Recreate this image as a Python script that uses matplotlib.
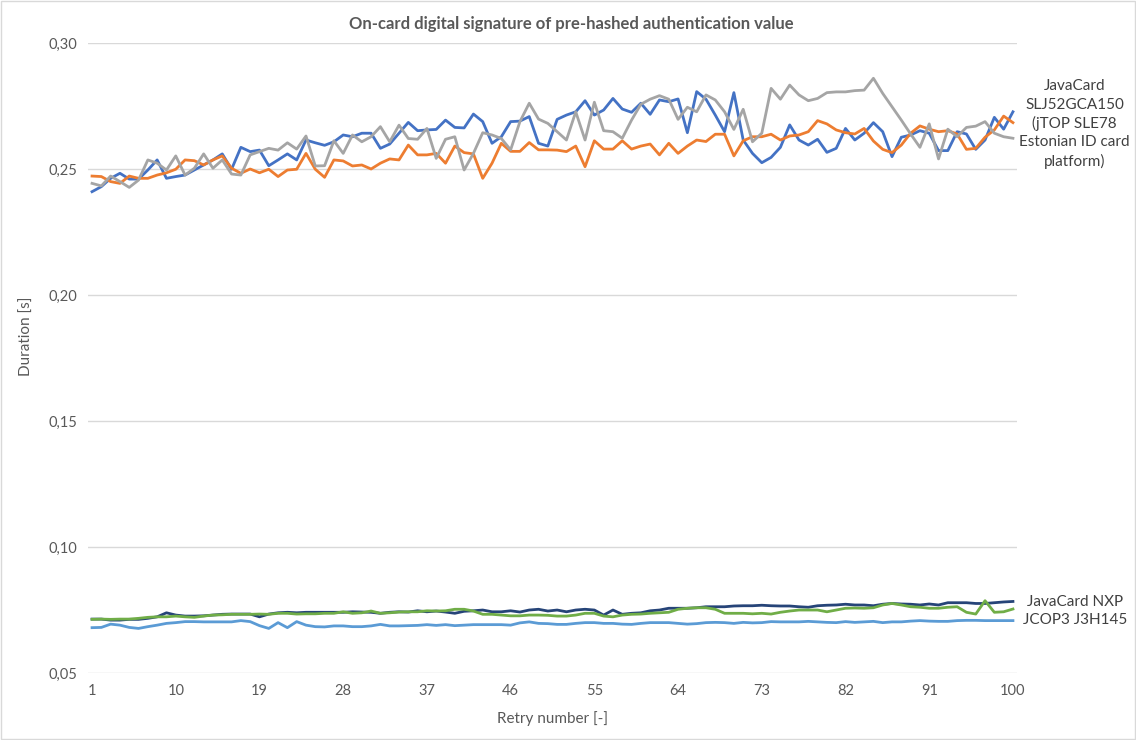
import matplotlib.pyplot as plt
from matplotlib.patches import Rectangle

plt.rcParams['font.family'] = ['Lato', 'DejaVu Sans']

retry = list(range(1, 101))

# JavaCard SLJ52GCA150 (jTOP SLE78) - three runs
sle_blue = [
    .2410, .2430, .2463, .2483, .2460, .2460, .2496, .2536, .2463, .2470,
    .2476, .2496, .2516, .2536, .2560, .2499, .2586, .2569, .2575, .2513,
    .2536, .2560, .2536, .2615, .2604, .2594, .2608, .2635, .2628, .2642,
    .2642, .2582, .2599, .2642, .2685, .2652, .2655, .2657, .2694, .2665,
    .2663, .2718, .2688, .2602, .2628, .2688, .2690, .2708, .2602, .2591,
    .2697, .2714, .2727, .2771, .2714, .2734, .2780, .2738, .2725, .2761,
    .2717, .2774, .2767, .2778, .2644, .2807, .2777, .2714, .2648, .2803,
    .2615, .2562, .2525, .2546, .2586, .2675, .2615, .2595, .2618, .2566,
    .2582, .2661, .2615, .2642, .2684, .2648, .2549, .2626, .2635, .2652,
    .2642, .2573, .2573, .2648, .2639, .2578, .2615, .2705, .2658, .2727,
]
sle_orange = [
    .2472, .2470, .2450, .2443, .2472, .2463, .2463, .2476, .2485, .2499,
    .2536, .2533, .2516, .2536, .2552, .2503, .2483, .2500, .2485, .2499,
    .2470, .2496, .2499, .2562, .2499, .2467, .2536, .2532, .2512, .2516,
    .2500, .2523, .2540, .2536, .2595, .2556, .2556, .2562, .2523, .2591,
    .2565, .2560, .2463, .2523, .2602, .2570, .2570, .2605, .2576, .2576,
    .2575, .2569, .2591, .2509, .2612, .2579, .2579, .2612, .2579, .2591,
    .2599, .2556, .2602, .2562, .2591, .2615, .2609, .2638, .2638, .2552,
    .2612, .2628, .2628, .2638, .2615, .2631, .2635, .2648, .2692, .2679,
    .2655, .2644, .2639, .2661, .2611, .2578, .2565, .2595, .2642, .2671,
    .2658, .2648, .2652, .2639, .2578, .2582, .2626, .2655, .2710, .2684,
]
sle_gray = [
    .2443, .2433, .2472, .2450, .2427, .2456, .2536, .2523, .2496, .2552,
    .2476, .2503, .2560, .2503, .2536, .2480, .2476, .2556, .2569, .2582,
    .2575, .2604, .2579, .2631, .2512, .2513, .2612, .2562, .2635, .2608,
    .2628, .2668, .2608, .2674, .2621, .2618, .2661, .2542, .2618, .2628,
    .2496, .2562, .2644, .2635, .2621, .2576, .2688, .2761, .2698, .2681,
    .2648, .2615, .2727, .2615, .2765, .2652, .2648, .2622, .2694, .2757,
    .2777, .2791, .2777, .2697, .2745, .2727, .2794, .2774, .2727, .2657,
    .2737, .2608, .2642, .2820, .2777, .2833, .2794, .2771, .2780, .2803,
    .2806, .2806, .2811, .2813, .2860, .2800, .2747, .2694, .2639, .2586,
    .2679, .2540, .2658, .2628, .2665, .2670, .2688, .2642, .2628, .2622,
]

# JavaCard NXP JCOP3 J3H145 - three runs
nxp_navy = [
    .0714, .0714, .0710, .0710, .0713, .0713, .0717, .0723, .0739, .0730,
    .0726, .0726, .0727, .0730, .0733, .0734, .0734, .0734, .0723, .0734,
    .0739, .0741, .0739, .0741, .0741, .0741, .0741, .0741, .0743, .0742,
    .0741, .0737, .0741, .0743, .0742, .0747, .0743, .0746, .0742, .0737,
    .0745, .0747, .0750, .0743, .0743, .0747, .0742, .0750, .0753, .0746,
    .0750, .0743, .0750, .0753, .0750, .0730, .0750, .0733, .0737, .0739,
    .0747, .0750, .0757, .0757, .0757, .0759, .0763, .0763, .0763, .0766,
    .0767, .0767, .0769, .0767, .0766, .0766, .0763, .0761, .0767, .0769,
    .0770, .0773, .0770, .0770, .0767, .0773, .0776, .0774, .0773, .0770,
    .0774, .0770, .0779, .0779, .0779, .0776, .0776, .0779, .0782, .0784,
]
nxp_green = [
    .0713, .0714, .0713, .0714, .0714, .0717, .0721, .0723, .0723, .0726,
    .0723, .0721, .0726, .0730, .0731, .0733, .0733, .0733, .0734, .0733,
    .0737, .0737, .0734, .0735, .0735, .0737, .0737, .0743, .0737, .0739,
    .0746, .0737, .0739, .0742, .0743, .0743, .0747, .0746, .0747, .0753,
    .0753, .0746, .0733, .0733, .0730, .0727, .0727, .0730, .0730, .0729,
    .0726, .0726, .0730, .0737, .0737, .0726, .0723, .0730, .0733, .0734,
    .0737, .0739, .0741, .0753, .0757, .0759, .0759, .0753, .0737, .0737,
    .0737, .0735, .0737, .0734, .0741, .0746, .0750, .0750, .0750, .0743,
    .0750, .0757, .0758, .0757, .0759, .0770, .0776, .0770, .0763, .0761,
    .0757, .0757, .0761, .0763, .0741, .0734, .0787, .0741, .0743, .0754,
]
nxp_light = [
    .0680, .0681, .0694, .0690, .0681, .0677, .0684, .0690, .0697, .0700,
    .0704, .0704, .0703, .0703, .0703, .0703, .0708, .0704, .0688, .0677,
    .0700, .0680, .0704, .0690, .0684, .0683, .0687, .0687, .0684, .0684,
    .0687, .0693, .0687, .0687, .0688, .0689, .0692, .0689, .0692, .0688,
    .0690, .0692, .0692, .0692, .0692, .0690, .0699, .0703, .0697, .0696,
    .0693, .0693, .0697, .0700, .0700, .0697, .0697, .0694, .0693, .0697,
    .0700, .0700, .0700, .0697, .0694, .0696, .0700, .0701, .0700, .0697,
    .0701, .0699, .0700, .0704, .0703, .0703, .0703, .0705, .0703, .0701,
    .0700, .0704, .0701, .0703, .0705, .0700, .0703, .0703, .0706, .0708,
    .0706, .0705, .0705, .0708, .0709, .0709, .0708, .0708, .0708, .0708,
]

y_ticks = [0.05, 0.10, 0.15, 0.20, 0.25, 0.30]
x_ticks = [1, 10, 19, 28, 37, 46, 55, 64, 73, 82, 91, 100]

text_col = '#595959'

fig = plt.figure(figsize=(11.36, 7.40), dpi=100)
ax = fig.add_axes([0.0775, 0.0905, 0.8177, 0.8514])

ax.plot(retry, sle_blue, color='#4472C4', lw=2)
ax.plot(retry, sle_orange, color='#ED7D31', lw=2)
ax.plot(retry, sle_gray, color='#A5A5A5', lw=2)
ax.plot(retry, nxp_navy, color='#264478', lw=2)
ax.plot(retry, nxp_green, color='#70AD47', lw=2)
ax.plot(retry, nxp_light, color='#5B9BD5', lw=2)

ax.set_xlim(0.57, 100.43)
ax.set_ylim(0.05, 0.30)
ax.set_yticks(y_ticks)
ax.set_yticklabels([f'{v:.2f}'.replace('.', ',') for v in y_ticks])
ax.set_xticks(x_ticks)
ax.tick_params(length=0, labelsize=10.5, colors=text_col, pad=8)
ax.grid(axis='y', color='#D9D9D9', lw=1)
ax.set_axisbelow(True)
for s in ax.spines.values():
    s.set_visible(False)

ax.set_xlabel('Retry number [-]', fontsize=11, color=text_col, labelpad=9)
ax.set_ylabel('Duration [s]', fontsize=11, color=text_col, labelpad=10)
ax.yaxis.set_label_coords(-0.058, 0.535)

fig.text(0.503, 1 - 24 / 740, 'On-card digital signature of pre-hashed authentication value',
         ha='center', va='center', fontsize=12, fontweight='bold', color=text_col)

fig.text(0.946, 0.832, 'JavaCard\nSLJ52GCA150\n(jTOP SLE78\nEstonian ID card\nplatform)',
         ha='center', va='center', fontsize=11, color='#404040', linespacing=1.38)
fig.text(0.946, 0.1745, 'JavaCard NXP\nJCOP3 J3H145',
         ha='center', va='center', fontsize=11, color='#404040', linespacing=1.38)

fig.patches.append(Rectangle((0.001, 0.001), 0.998, 0.998, transform=fig.transFigure,
                             fill=False, edgecolor='#D9D9D9', lw=1))

fig.savefig('out.png', dpi=100)
